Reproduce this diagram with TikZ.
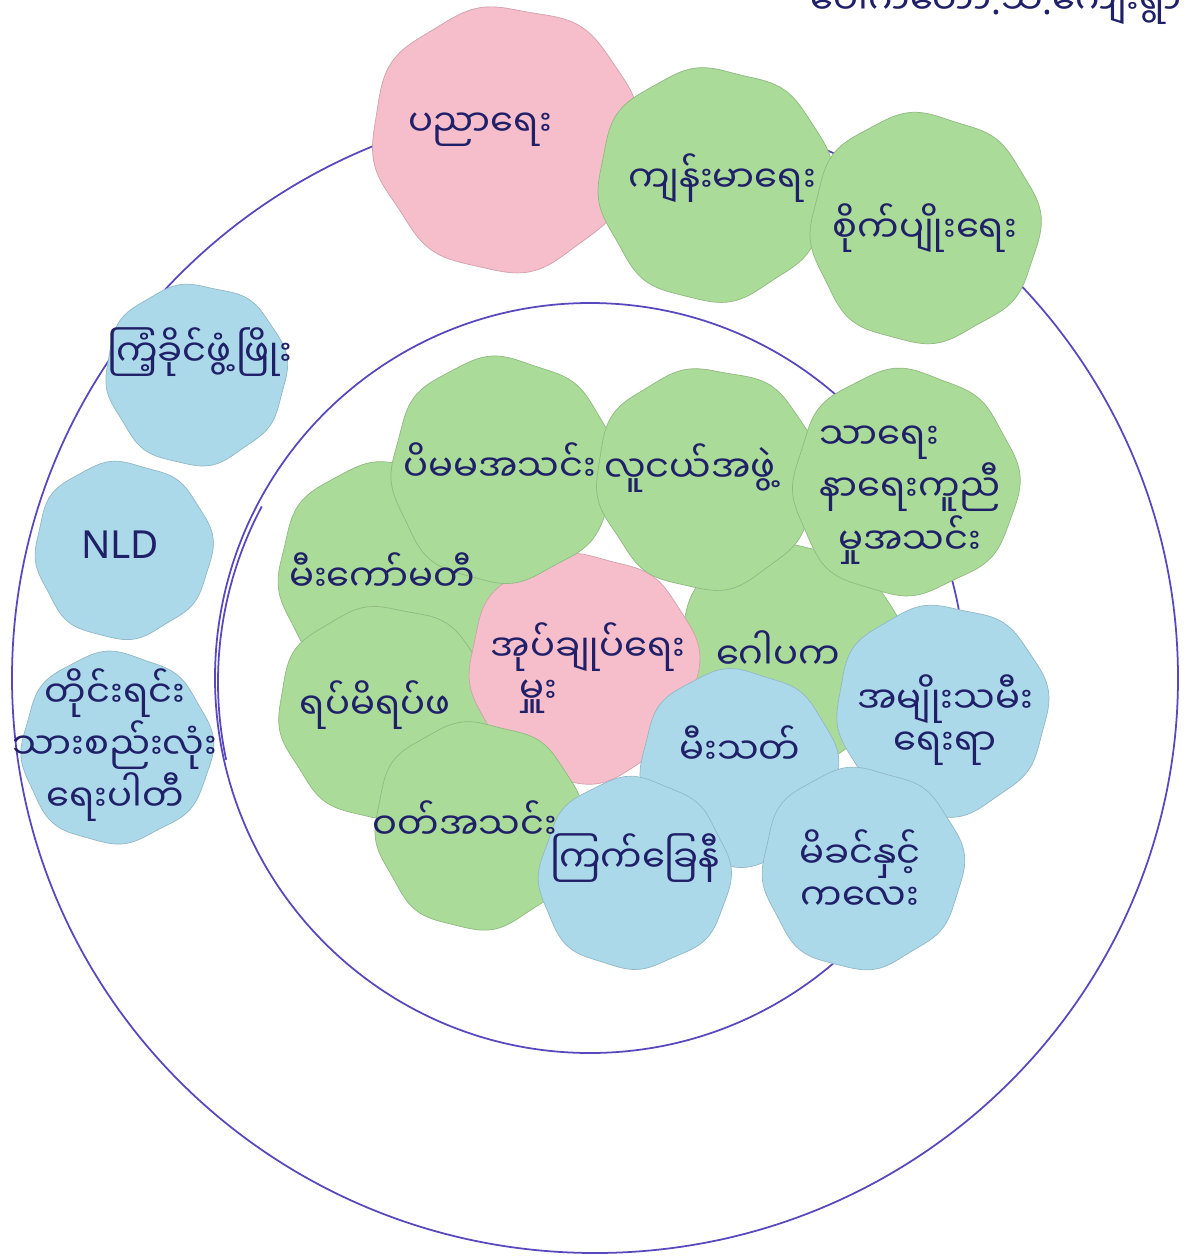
\documentclass[tikz,border=0pt]{standalone}
\usepackage{fontspec}
\newfontfamily\mmfont[Script=Myanmar]{Noto Sans Myanmar UI}
\newfontfamily\latinfont{Noto Sans}
\definecolor{paperpink}{RGB}{246,190,203}
\definecolor{papergreen}{RGB}{170,219,152}
\definecolor{paperblue}{RGB}{172,217,233}
\definecolor{pen}{RGB}{88,72,190}
\definecolor{ink}{RGB}{32,32,105}
% paper cut-out: x, y (pixels from top), radius, colour, phase
\newcommand\cutout[5]{%
  \fill[#4, draw=#4!85!black, very thin] plot[smooth cycle, domain=0:355, samples=72]
    ({#1+#3*(1+0.018*sin(8*\x+#5)+0.015*sin(3*\x+2*#5))*cos(\x)}, {-#2+#3*(1+0.018*sin(8*\x+#5)+0.015*sin(3*\x+2*#5))*sin(\x)});}
\begin{document}
\begin{tikzpicture}[x=0.01cm, y=0.01cm,
    writing/.style={font=\mmfont\fontsize{10.5}{12}\selectfont, text=ink, align=center, inner sep=1pt},
    ring/.style={draw=pen, line width=0.5pt}]
    \useasboundingbox (0,0) rectangle (1186,-1257);
    \fill[white] (0,0) rectangle (1186,-1257);

    % Circles
    \draw[ring] (595,-678) ellipse [x radius=583, y radius=575];
    \draw[ring] (590,-678) circle [radius=375];
    \draw[ring] (592,-682) ++(152:374) arc (152:192:374);

    % Outside the village
    \cutout{505}{138}{132}{paperpink}{0}
    \cutout{714}{184}{116}{papergreen}{20}
    \cutout{924}{228}{114}{papergreen}{40}
    \cutout{196}{374}{90}{paperblue}{10}
    \cutout{123}{550}{88}{paperblue}{30}
    \cutout{116}{748}{95}{paperblue}{50}

    % Inside the village
    \cutout{790}{655}{112}{papergreen}{15}
    \cutout{390}{575}{112}{papergreen}{35}
    \cutout{385}{712}{106}{papergreen}{5}
    \cutout{583}{668}{114}{paperpink}{25}
    \cutout{503}{470}{112}{papergreen}{45}
    \cutout{707}{478}{110}{papergreen}{0}
    \cutout{905}{483}{112}{papergreen}{60}
    \cutout{478}{825}{103}{papergreen}{20}
    \cutout{942}{710}{105}{paperblue}{10}
    \cutout{738}{768}{98}{paperblue}{40}
    \cutout{634}{874}{95}{paperblue}{70}
    \cutout{862}{868}{100}{paperblue}{30}

    % Labels
    \node[writing, anchor=base east] (village) at (1186,-14) {ပေါက်တော{\latinfont.}သ{\latinfont.}ကျေးရွာ};
    \node[writing] (education) at (480,-130) {ပညာရေး};
    \node[writing] (health) at (722,-178) {ကျန်းမာရေး};
    \node[writing] (farming) at (925,-228) {စိုက်ပျိုးရေး};
    \node[writing] (usdp) at (200,-352) {ကြံ့ခိုင်ဖွံ့ဖြိုး};
    \node[writing, font=\latinfont\fontsize{11}{12}\selectfont] (nld) at (120,-545) {NLD};
    \node[writing] (nup) at (115,-745) {တိုင်းရင်း\\သားစည်းလုံး\\ရေးပါတီ};
    \node[writing] (society) at (500,-462) {ပိမမအသင်း};
    \node[writing] (youth) at (690,-468) {လူငယ်အဖွဲ့};
    \node[writing, align=left] (funeral) at (910,-495) {သာရေး\\နာရေးကူညီ\\\ \ မှုအသင်း};
    \node[writing] (committee) at (382,-572) {မီးကော်မတီ};
    \node[writing, align=left] (headman) at (588,-668) {အုပ်ချုပ်ရေး\\\ \ \ မှူး};
    \node[writing] (trustee) at (778,-650) {ဂေါပက};
    \node[writing] (elders) at (375,-705) {ရပ်မိရပ်ဖ};
    \node[writing] (worship) at (465,-820) {ဝတ်အသင်း};
    \node[writing] (fire) at (740,-745) {မီးသတ်};
    \node[writing] (women) at (945,-720) {အမျိုးသမီး\\ရေးရာ};
    \node[writing] (redcross) at (635,-858) {ကြက်ခြေနီ};
    \node[writing] (mother) at (860,-870) {မိခင်နှင့်\\ကလေး};
\end{tikzpicture}
\end{document}
